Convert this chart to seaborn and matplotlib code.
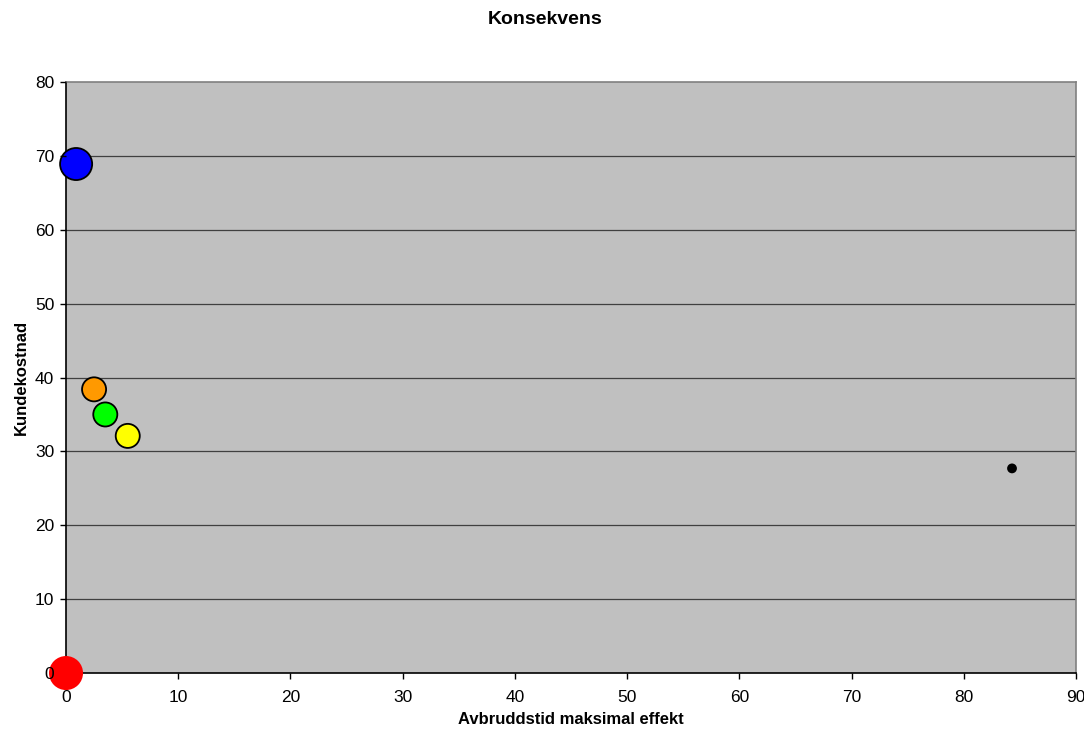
import matplotlib
matplotlib.use("Agg")
import matplotlib.pyplot as plt
import seaborn as sns
import pandas as pd

# Bubble data: interruption duration at max load vs customer cost
navn = ["Rød", "Blå", "Oransje", "Grønn", "Gul", "Svart"]
avbruddstid = [0.0, 0.9, 2.5, 3.5, 5.5, 84.3]
kundekostnad = [0.0, 68.9, 38.4, 35.0, 32.1, 27.7]
vekt = [18, 16, 9, 9, 9, 1]

x_ticks = list(range(0, 91, 10))
y_ticks = list(range(0, 81, 10))

farger = {"Rød": "#FF0000", "Blå": "#0000FF", "Oransje": "#FF9900",
          "Grønn": "#00FF00", "Gul": "#FFFF00", "Svart": "#000000"}

df = pd.DataFrame({"navn": navn, "x": avbruddstid, "y": kundekostnad, "vekt": vekt})

sns.set_theme(style="white")
plt.rcParams["font.family"] = ["Liberation Sans", "DejaVu Sans"]
plt.rcParams["text.color"] = "black"
plt.rcParams["axes.labelcolor"] = "black"
plt.rcParams["xtick.color"] = "black"
plt.rcParams["ytick.color"] = "black"

fig = plt.figure(figsize=(10.84, 7.31), dpi=100)
ax = fig.add_axes([0.0609, 0.0793, 0.9317, 0.8085])
ax.set_facecolor("#C0C0C0")

for y in y_ticks[1:-1]:
    ax.axhline(y, color="#404040", lw=0.9, zorder=1)

edge = df["navn"].map(lambda n: "none" if n == "Rød" else "black")
sns.scatterplot(data=df, x="x", y="y", hue="navn", palette=farger,
                size="vekt", sizes=(33, 600), size_norm=(1, 18),
                edgecolor=edge.tolist(), linewidth=1.3, legend=False,
                ax=ax, zorder=3, clip_on=False)

ax.set_xlim(0, 90)
ax.set_ylim(0, 80)
ax.set_xticks(x_ticks)
ax.set_yticks(y_ticks)
ax.tick_params(axis="both", direction="out", length=4.5, width=1, color="black",
               labelsize=12.5, left=True, bottom=True)
ax.tick_params(axis="y", pad=4)
ax.tick_params(axis="x", pad=8)
ax.xaxis.set_zorder(4)
ax.yaxis.set_zorder(4)
# the origin tick marks sit underneath the bubble at (0, 0)
ax.xaxis.get_major_ticks()[0].tick1line.set_visible(False)
ax.yaxis.get_major_ticks()[0].tick1line.set_visible(False)

for side in ["left", "bottom"]:
    ax.spines[side].set_color("black")
    ax.spines[side].set_linewidth(1.2)
for side in ["top", "right"]:
    ax.spines[side].set_color("#808080")
    ax.spines[side].set_linewidth(1.2)

ax.set_xlabel("Avbruddstid maksimal effekt", fontsize=12, fontweight="bold", labelpad=5)
ax.set_ylabel("Kundekostnad", fontsize=12, fontweight="bold", labelpad=4)
fig.suptitle("Konsekvens", x=0.503, y=0.985, fontsize=14, fontweight="bold")

fig.savefig("out.png", dpi=100)
